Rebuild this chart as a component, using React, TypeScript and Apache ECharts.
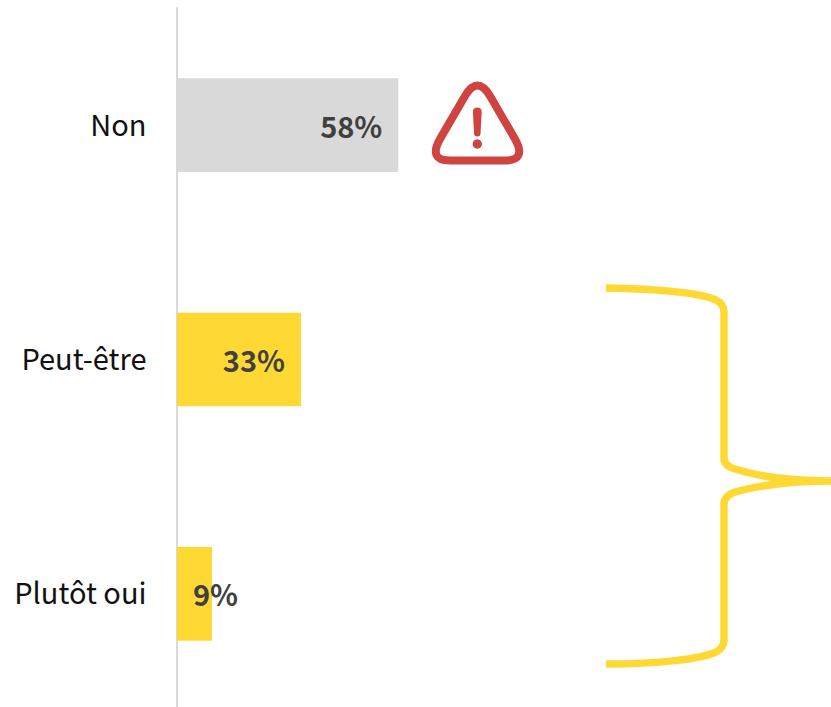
import React, { useEffect, useRef } from "react";
import * as echarts from "echarts";

const categories = ["Non", "Peut-être", "Plutôt oui"];
const shares = [58.2, 32.6, 9.2];
const barColors = ["#d9d9d9", "#ffd933", "#ffd933"];
const labelPositions = ["insideRight", "insideRight", "insideLeft"];

const FONT = '"Noto Sans CJK SC", "Noto Sans", sans-serif';
const RED = "#cf4440";
const YELLOW = "#ffd933";

const warningOutline =
  "M465,96 Q477.5,75 490,96 L515,139 Q527,160.5 505,160.5 L450,160.5 Q428,160.5 440,139 Z";
const warningMark =
  "M472.9,112 Q472.9,107.5 477.3,107.5 Q481.7,107.5 481.7,112 L480.5,134 Q480.3,136.5 477.3,136.5 Q474.3,136.5 474.1,134 Z";
const bracket =
  "M606,288 C660,289 700,293 716,300 Q724,304 724,312 L724,458 Q724,466 735,469 C760,477 790,481 831,481 C790,481 760,485 735,492 Q724,496 724,504 L724,640 Q724,648 716,652 C700,659 660,664 606,664";

echarts.graphic.registerShape("warningOutline", echarts.graphic.extendPath(warningOutline, {}) as any);
echarts.graphic.registerShape("warningMark", echarts.graphic.extendPath(warningMark, {}) as any);
echarts.graphic.registerShape("bracket", echarts.graphic.extendPath(bracket, {}) as any);

export default function App() {
  const ref = useRef<HTMLDivElement>(null);
  useEffect(() => {
    const chart = echarts.init(ref.current!, undefined, { renderer: "svg" });
    chart.setOption({
      animation: false,
      backgroundColor: "#ffffff",
      grid: { left: 177, width: 654, top: 8, height: 703 },
      xAxis: { type: "value", min: 0, max: 172, show: false },
      yAxis: {
        type: "category",
        inverse: true,
        data: categories,
        axisLine: { show: true, lineStyle: { color: "#d9d9d9", width: 2 } },
        axisTick: { show: false },
        axisLabel: {
          color: "#111111",
          fontFamily: FONT,
          fontSize: 29,
          margin: 30.5,
          verticalAlign: "bottom",
          lineHeight: 5,
        },
      },
      series: [
        {
          type: "bar",
          barWidth: "40%",
          z: 1,
          data: shares.map((value, i) => ({
            value,
            itemStyle: { color: barColors[i] },
            label: { position: labelPositions[i] },
          })),
          label: {
            show: true,
            distance: 16,
            offset: [0, -0.6],
            color: "#404040",
            fontFamily: FONT,
            fontSize: 29,
            fontWeight: "bold",
            formatter: (p: any) => `${Math.round(p.value)}%`,
          },
        },
      ],
      graphic: [
        { type: "warningOutline", style: { fill: "none", stroke: RED, lineWidth: 8, lineJoin: "round" } },
        { type: "warningMark", style: { fill: RED } },
        { type: "circle", shape: { cx: 477.3, cy: 144, r: 4.7 }, style: { fill: RED } },
        { type: "bracket", style: { fill: "none", stroke: YELLOW, lineWidth: 7.5 } },
      ],
    });
    return () => chart.dispose();
  }, []);
  return (
    <div style={{ position: "fixed", left: 0, top: 0, width: 831, height: 707, overflow: "hidden" }}>
      <div ref={ref} style={{ width: 831, height: 730 }} />
    </div>
  );
}
